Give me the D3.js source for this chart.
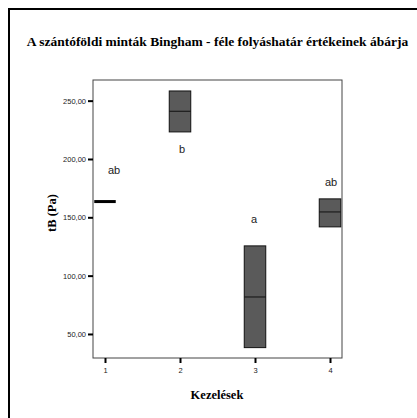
<!DOCTYPE html>
<html><head><meta charset="utf-8">
<script src="https://cdn.jsdelivr.net/npm/d3@7"></script>
<style>body{margin:0;background:#fff;}svg{display:block;} .serif{font-family:"Liberation Serif","Times New Roman",Times,serif;font-weight:bold;} .sans{font-family:"Liberation Sans",Arial,Helvetica,sans-serif;}</style>
</head><body>
<svg id="c" width="417" height="418"></svg>
<script>
const categories = ["1", "2", "3", "4"];
const q1 = [163.5, 223.2, 38.3, 141.8];
const medians = [163.5, 240.9, 81.7, 154.6];
const q3 = [163.5, 258.3, 125.5, 165.8];
const letters = ["ab", "b", "a", "ab"];
const letterValues = [187.5, 205.5, 145.5, 176.5];
const yTicks = [50, 100, 150, 200, 250];
const title = "A szántóföldi minták Bingham - féle folyáshatár értékeinek ábárja";
const yLabel = "tB (Pa)";
const xLabel = "Kezelések";

const svg = d3.select("#c");
const L = 93, R = 342, T = 80, B = 358;
const x = d3.scaleLinear().domain([0.84, 4.16]).range([L, R]);
const y = d3.scaleLinear().domain([29.4, 267.7]).range([B, T]);

svg.append("rect").attr("x", 9).attr("y", 9).attr("width", 430).attr("height", 430)
  .attr("fill", "none").attr("stroke", "#000").attr("stroke-width", 2);

const tt = svg.append("text").attr("class", "serif").attr("x", 217.5).attr("y", 46).attr("text-anchor", "middle")
  .attr("font-size", 13.5).text(title);

svg.append("rect").attr("x", L).attr("y", T).attr("width", R - L).attr("height", B - T)
  .attr("fill", "none").attr("stroke", "#444").attr("stroke-width", 1);

const yAxis = d3.axisLeft(y).tickValues(yTicks).tickSize(5).tickPadding(2)
  .tickFormat(d => d3.format(".2f")(d).replace(".", ","));
const gy = svg.append("g").attr("transform", `translate(${L},0)`).call(yAxis);
gy.attr("font-family", null);
gy.select(".domain").remove();
gy.selectAll(".tick line").attr("stroke", "#000").attr("stroke-width", 2);
gy.selectAll(".tick text").attr("class", "sans").attr("font-size", 7.5).attr("fill", "#222");

const xAxis = d3.axisBottom(x).tickValues([1, 2, 3, 4]).tickSize(5).tickPadding(5)
  .tickFormat(d => categories[d - 1]);
const gx = svg.append("g").attr("transform", `translate(0,${B})`).call(xAxis);
gx.attr("font-family", null);
gx.select(".domain").remove();
gx.selectAll(".tick line").attr("stroke", "#000").attr("stroke-width", 2);
gx.selectAll(".tick text").attr("class", "sans").attr("font-size", 7.5).attr("fill", "#222");

const bw = 21.5;
categories.forEach((c, i) => {
  const cx = x(i + 1);
  const x0 = Math.max(L, cx - bw / 2), x1 = Math.min(R, cx + bw / 2);
  if (q3[i] - q1[i] < 1) {
    svg.append("line").attr("x1", x0).attr("x2", x1).attr("y1", y(medians[i])).attr("y2", y(medians[i]))
      .attr("stroke", "#000").attr("stroke-width", 3);
  } else {
    svg.append("rect").attr("x", x0).attr("y", y(q3[i])).attr("width", x1 - x0).attr("height", y(q1[i]) - y(q3[i]))
      .attr("fill", "#5a5a5a").attr("stroke", "#111").attr("stroke-width", 1);
    svg.append("line").attr("x1", x0).attr("x2", x1).attr("y1", y(medians[i])).attr("y2", y(medians[i]))
      .attr("stroke", "#111").attr("stroke-width", 1);
  }
});

const letterDx = [9, 2, -1, 1];
letters.forEach((t, i) => {
  svg.append("text").attr("class", "sans").attr("x", x(i + 1) + letterDx[i]).attr("y", y(letterValues[i]))
    .attr("text-anchor", "middle").attr("font-size", 11)
    .attr("fill", "#222").text(t);
});

svg.append("text").attr("class", "serif").attr("transform", `translate(56,213) rotate(-90)`).attr("text-anchor", "middle")
  .attr("font-size", 12.5).text(yLabel);

svg.append("text").attr("class", "serif").attr("x", 217).attr("y", 399).attr("text-anchor", "middle")
  .attr("font-size", 12.5).text(xLabel);
</script>
</body></html>
